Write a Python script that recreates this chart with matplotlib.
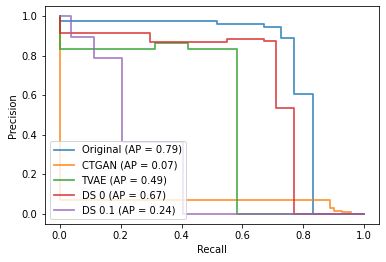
import matplotlib
matplotlib.use("Agg")
import matplotlib.pyplot as plt

# recall / precision pairs, ascending recall (drawn as steps like sklearn's PR display)
orig_recall = [0.0, 0.515, 0.67, 0.726, 0.771, 0.833, 1.0]
orig_precision = [1.0, 0.975, 0.961, 0.946, 0.891, 0.606, 0.002]

ctgan_recall = [0.0, 0.889, 0.90, 0.926, 0.957, 1.0]
ctgan_precision = [1.0, 0.071, 0.032, 0.017, 0.010, 0.002]

tvae_recall = [0.0, 0.314, 0.42, 0.582, 1.0]
tvae_precision = [1.0, 0.835, 0.861, 0.835, 0.002]

ds0_recall = [0.0, 0.298, 0.548, 0.67, 0.711, 0.771, 1.0]
ds0_precision = [1.0, 0.916, 0.869, 0.884, 0.875, 0.537, 0.002]

ds01_recall = [0.0, 0.036, 0.114, 0.203, 0.406, 1.0]
ds01_precision = [1.0, 1.0, 0.895, 0.79, 0.362, 0.002]

names = ["Original", "CTGAN", "TVAE", "DS 0", "DS 0.1"]
ap_scores = [0.79, 0.07, 0.49, 0.67, 0.24]
curves = [
    (orig_recall, orig_precision),
    (ctgan_recall, ctgan_precision),
    (tvae_recall, tvae_precision),
    (ds0_recall, ds0_precision),
    (ds01_recall, ds01_precision),
]

fig = plt.figure(figsize=(386 / 72, 262 / 72), dpi=72)
ax = fig.add_axes([0.1153, 0.1439, 0.983 - 0.1153, 0.977 - 0.1439])

for (rec, prec), name, ap in zip(curves, names, ap_scores):
    ax.plot(rec, prec, drawstyle="steps-pre", alpha=0.8, lw=1.8,
            label=f"{name} (AP = {ap:.2f})")

ax.set_xlim(-0.05, 1.05)
ax.set_ylim(-0.052, 1.05)
ax.set_xlabel("Recall")
ax.set_ylabel("Precision")
ax.legend(loc="lower left")

fig.savefig("out.png", dpi=72)
